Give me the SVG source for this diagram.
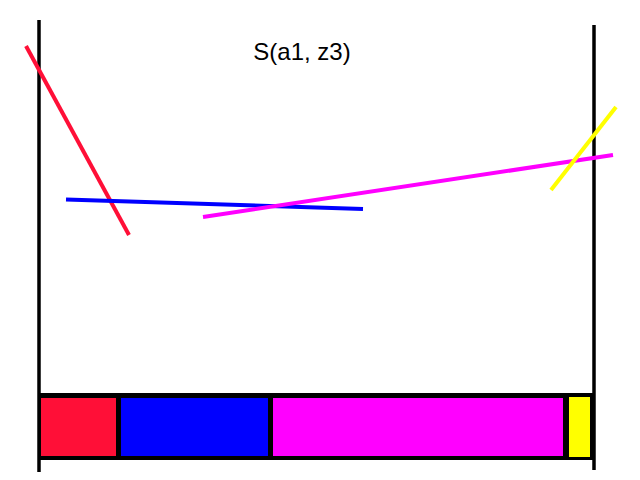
<svg xmlns="http://www.w3.org/2000/svg" width="640" height="480" viewBox="0 0 640 480">
<style>
.ln{stroke-width:4;fill:none}
.ax{stroke:#000;stroke-width:3.5;fill:none}
text{font-family:"Liberation Sans",Arial,sans-serif;font-size:24px;fill:#000}
</style>
<rect width="640" height="480" fill="#fff"/>
<g id="axes">
<line class="ax" x1="39" y1="20" x2="39" y2="472"/>
<line class="ax" x1="594" y1="25" x2="594" y2="470"/>
</g>
<g id="title"><text x="302" y="60" text-anchor="middle">S(a1, z3)</text></g>
<g id="bar">
<rect x="38" y="393" width="556" height="67" fill="#000"/>
<rect x="41" y="398" width="75" height="58" fill="#ff0f37"/>
<rect x="121" y="398" width="147" height="58" fill="#0000ff"/>
<rect x="273" y="398" width="290" height="58" fill="#ff00ff"/>
<rect x="569" y="397" width="21" height="60" fill="#ffff00"/>
</g>
<g id="connectors">
<line class="ln" stroke="#ff0f37" x1="26" y1="46" x2="129" y2="235"/>
<line class="ln" stroke="#0000ff" x1="66" y1="199.5" x2="363" y2="209"/>
<line class="ln" stroke="#ff00ff" x1="203" y1="217" x2="613" y2="155"/>
<line class="ln" stroke="#ffff00" x1="551" y1="190" x2="616" y2="107"/>
</g>
</svg>
